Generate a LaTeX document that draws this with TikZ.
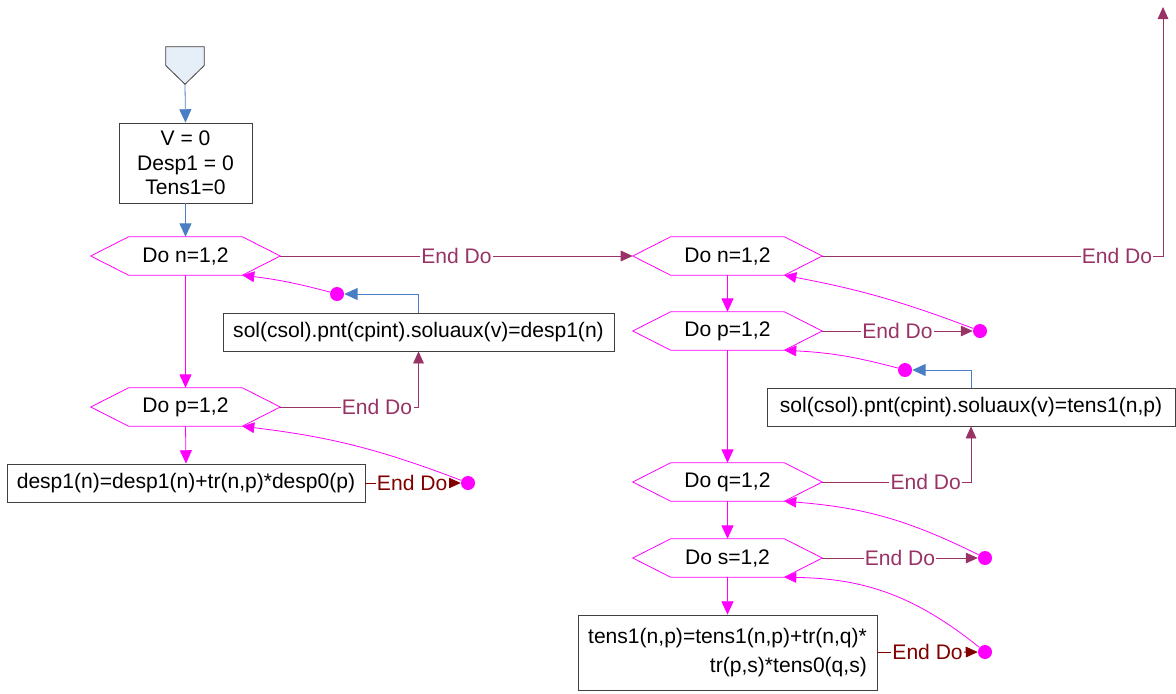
\documentclass[tikz,border=0pt]{standalone}
\usepackage{fontspec}
\setmainfont{Liberation Sans}
\usetikzlibrary{arrows.meta, positioning, calc}

\definecolor{loopmag}{HTML}{FF00FF}
\definecolor{enddo}{HTML}{993366}
\definecolor{enddoin}{HTML}{800000}
\definecolor{flowblue}{HTML}{4A7EC4}
\definecolor{startfill}{HTML}{E6EEF8}
\definecolor{boxline}{HTML}{404040}

\begin{document}
\begin{tikzpicture}[
  x=0.75pt, y=-0.75pt,
  font=\fontsize{15.8}{18.5}\selectfont,
  block/.style = {draw=boxline, line width=0.6pt, minimum height=28.5pt, inner sep=4pt, align=center},
  doloop/.style = {minimum width=141.75pt, minimum height=28.5pt, inner sep=0pt},
  dot/.style = {circle, fill=loopmag, inner sep=0pt, minimum size=10.5pt},
  flow/.style = {draw=flowblue, line width=0.6pt, -{Triangle[length=10pt, width=9pt]}},
  down/.style = {draw=loopmag, line width=0.6pt, -{Triangle[length=10pt, width=9pt]}},
  back/.style = {draw=loopmag, line width=0.6pt, -{Triangle[length=9pt, width=8pt]}},
  exit/.style = {draw=enddo, line width=0.6pt, -{Triangle[length=9pt, width=8pt]}},
  exitin/.style = {draw=enddoin, line width=0.6pt, -{Triangle[length=9pt, width=8pt]}},
  lbl/.style = {fill=white, inner sep=1pt, text=enddo},
  lblin/.style = {fill=white, inner sep=1pt, text=enddoin}
]
  \useasboundingbox (0,0) rectangle (1176,693);

  % Start and initialisation
  \node[minimum width=28.5pt, minimum height=27.75pt, inner sep=0pt] (start) at (185,65.5) {};
  \draw[draw=boxline, line width=0.6pt, fill=startfill]
    (start.north west) -- (start.north east) -- (start.east) -- (start.south) -- (start.west) -- cycle;
  \node[block, minimum width=99.75pt, minimum height=60pt] (init) at (185.5,163) {V = 0\\Desp1 = 0\\Tens1=0};

  % First loop nest
  \node[doloop] (n1) at (185.5,256) {Do n=1,2};
  \node[doloop] (p1) at (185.5,407) {Do p=1,2};
  \node[block, minimum width=268.5pt] (d1) at (186,483) {desp1(n)=desp1(n)+tr(n,p)*desp0(p)};
  \node[block, minimum width=293.25pt] (s1) at (418.5,332) {sol(csol).pnt(cpint).soluaux(v)=desp1(n)};
  \node[dot] (c1) at (337,294) {};
  \node[dot] (c2) at (468,483) {};

  % Second loop nest
  \node[doloop] (n2) at (727.5,256) {Do n=1,2};
  \node[doloop] (p2) at (727.5,331) {Do p=1,2};
  \node[doloop] (q2) at (727.5,482) {Do q=1,2};
  \node[doloop] (s2) at (727.5,558) {Do s=1,2};
  \node[block, minimum width=306pt] (s3) at (971,407) {sol(csol).pnt(cpint).soluaux(v)=tens1(n,p)};
  \node[block, minimum width=224.25pt, minimum height=56.25pt, align=right, inner sep=6pt] (t2) at (727.5,652.5)
    {tens1(n,p)=tens1(n,p)+tr(n,q)*\\[3pt]tr(p,s)*tens0(q,s)};
  \node[dot] (c3) at (980,331) {};
  \node[dot] (c4) at (905,370) {};
  \node[dot] (c5) at (985,558) {};
  \node[dot] (c6) at (985,652) {};
  \coordinate (out) at (1163,7);

  % Hexagon outlines
  \foreach \h in {n1,p1,n2,p2,q2,s2}
    \draw[draw=loopmag, line width=0.6pt] (\h.west) -- ([xshift=28.5pt]\h.north west) -- ([xshift=-28.5pt]\h.north east)
      -- (\h.east) -- ([xshift=-28.5pt]\h.south east) -- ([xshift=28.5pt]\h.south west) -- cycle;

  % Flow
  \draw[flow] (start.south) -- (init.north);
  \draw[flow] (init.south) -- (n1.north);
  \draw[down] (n1.south) -- (p1.north);
  \draw[down] (p1.south) -- (d1.north);
  \draw[down] (n2.south) -- (p2.north);
  \draw[down] (p2.south) -- (q2.north);
  \draw[down] (q2.south) -- (s2.north);
  \draw[down] (s2.south) -- (t2.north);
  \draw[flow] (s1.north) |- (c1);
  \draw[flow] (s3.north) |- (c4);

  % End Do exits
  \draw[exit] (n1.east) -- node[lbl] (e1) {End Do} (n2.west);
  \draw[exit] (p1.east) -- node[lbl, pos=.70] (e2) {End Do} (p1.east -| s1.south) -- (s1.south);
  \draw[exitin] (d1.east) -- node[lblin, pos=.49] (e3) {End Do} (c2);
  \draw[exit] (n2.east) -- node[lbl, pos=.865] (e4) {End Do} (n2.east -| out) -- (out);
  \draw[exit] (p2.east) -- node[lbl, pos=.5] (e5) {End Do} (c3);
  \draw[exit] (q2.east) -- node[lbl, pos=.695] (e6) {End Do} (q2.east -| s3.south) -- (s3.south);
  \draw[exit] (s2.east) -- node[lbl, pos=.5] (e7) {End Do} (c5);
  \draw[exitin] (t2.east) -- node[lblin, pos=.5] (e8) {End Do} (c6);

  % Loop returns
  \draw[back] (c1) to[bend right=4] ([xshift=-28.5pt]n1.south east);
  \draw[back] (c2) to[bend right=7] ([xshift=-28.5pt]p1.south east);
  \draw[back] (c3) to[bend right=5] ([xshift=-28.5pt]n2.south east);
  \draw[back] (c4) to[bend right=6] ([xshift=-28.5pt]p2.south east);
  \draw[back] (c5) to[bend right=11] ([xshift=-28.5pt]q2.south east);
  \draw[back] (c6) to[bend right=19] ([xshift=-28.5pt]s2.south east);
\end{tikzpicture}
\end{document}
